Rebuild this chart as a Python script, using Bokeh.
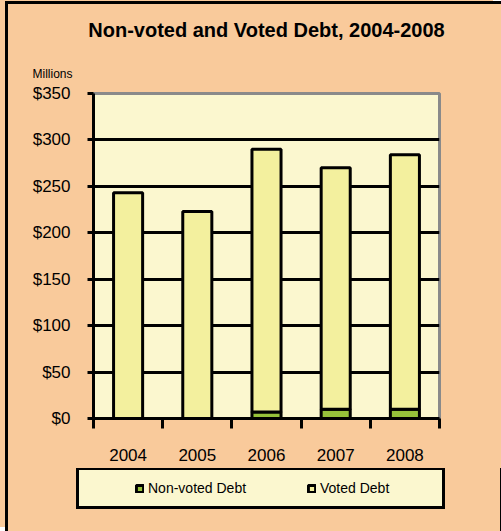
from bokeh.plotting import figure
from bokeh.layouts import column
from bokeh.models import (ColumnDataSource, Title, Legend, LegendItem,
                          FixedTicker, NumeralTickFormatter, BasicTickFormatter)
from bokeh.embed import file_html
from bokeh.resources import INLINE

# ---- data ----
years = [2004, 2005, 2006, 2007, 2008]
nonvoted = [0, 0, 7, 10, 10]
total = [243, 223, 290, 270, 284]
voted = [t - n for t, n in zip(total, nonvoted)]
y_ticks = [0, 50, 100, 150, 200, 250, 300, 350]
series_labels = ["Non-voted Debt", "Voted Debt"]

PEACH = "#F9CA9B"
CREAM = "#FBF7CF"
YELLOW = "#F3F09E"
GREEN = "#97C23A"
FONT = "Liberation Sans"

src = ColumnDataSource(dict(year=years, nonvoted=nonvoted, voted=voted))

# ---------------- main chart ----------------
p = figure(width=493, height=464,
           x_range=(years[0] - 0.5, years[-1] + 0.5), y_range=(0, 350),
           output_backend="svg", toolbar_location=None,
           min_border_left=85, min_border_top=89,
           min_border_right=62, min_border_bottom=50)
p.frame_align = False

p.title = Title(text="Non-voted and Voted Debt, 2004-2008", align="center",
                text_font=FONT, text_font_size="20px", text_font_style="bold",
                text_color="black", standoff=23)
p.add_layout(Title(text="Millions", align="left", offset=-61, standoff=25,
                   text_font=FONT, text_font_size="12px",
                   text_font_style="normal", text_color="black"), "above")

p.background_fill_color = CREAM
p.border_fill_color = PEACH
p.outline_line_color = "#8A8A8A"
p.outline_line_width = 3

rs = p.vbar_stack(["nonvoted", "voted"], x="year", width=0.42, source=src,
                  fill_color=[GREEN, YELLOW], line_color="black", line_width=3)

# y axis
p.yaxis.ticker = FixedTicker(ticks=y_ticks)
p.yaxis.formatter = NumeralTickFormatter(format="$0")
p.yaxis.axis_line_width = 3
p.yaxis.axis_line_color = "black"
p.yaxis.major_tick_line_width = 3
p.yaxis.major_tick_out = 6
p.yaxis.major_tick_in = 0
p.yaxis.minor_tick_line_color = None
p.yaxis.major_label_text_font = FONT
p.yaxis.major_label_text_font_size = "17px"
p.yaxis.major_label_text_color = "black"
p.yaxis.major_label_standoff = 17

# x axis: labels at centres, ticks at category boundaries
bounds = [y - 0.5 for y in years] + [years[-1] + 0.5]
p.xaxis.ticker = FixedTicker(ticks=years, minor_ticks=bounds)
p.xaxis.formatter = BasicTickFormatter(use_scientific=False)
p.xaxis.axis_line_width = 3
p.xaxis.axis_line_color = "black"
p.xaxis.major_tick_line_color = None
p.xaxis.major_tick_out = 10
p.xaxis.major_tick_in = 0
p.xaxis.minor_tick_line_color = "black"
p.xaxis.minor_tick_line_width = 3
p.xaxis.minor_tick_out = 10
p.xaxis.minor_tick_in = 0
p.xaxis.major_label_text_font = FONT
p.xaxis.major_label_text_font_size = "17px"
p.xaxis.major_label_text_color = "black"
p.xaxis.major_label_standoff = 20

# grid
p.xgrid.grid_line_color = None
p.ygrid.ticker = FixedTicker(ticks=y_ticks[1:-1])
p.ygrid.grid_line_color = "black"
p.ygrid.grid_line_width = 3

# ---------------- legend strip ----------------
# same series drawn with the same data; the view range keeps them off-screen,
# they only provide the legend swatches
q = figure(width=493, height=63, x_range=(0, 1), y_range=(0, 1),
           output_backend="svg", toolbar_location=None, min_border=0,
           x_axis_location=None, y_axis_location=None)
q.frame_align = False
q.outline_line_color = None
q.background_fill_color = PEACH
q.border_fill_color = PEACH
q.grid.visible = False
qs = q.vbar_stack(["nonvoted", "voted"], x="year", width=0.42, source=src,
                  fill_color=[GREEN, YELLOW], line_color="black", line_width=3)

legend = Legend(items=[LegendItem(label=series_labels[0], renderers=[qs[0]]),
                       LegendItem(label=series_labels[1], renderers=[qs[1]])],
                orientation="horizontal", location=(68, 22),
                glyph_width=9, glyph_height=9, label_standoff=4,
                label_width=112, spacing=47, padding=10, margin=0,
                title="\u00a0", title_location="left", title_standoff=45,
                title_text_font_size="1px",
                label_text_font=FONT, label_text_font_size="14px",
                label_text_color="black",
                border_line_color="black", border_line_width=3,
                border_line_alpha=1.0,
                background_fill_color=CREAM, background_fill_alpha=1)
q.add_layout(legend)

page = column(p, q, spacing=0)
page.styles = {"margin-left": "5px", "margin-top": "1px",
               "border-left": "3px solid black", "border-top": "3px solid black",
               "background-color": PEACH,
               "box-shadow": "-8px -4px 0 0 " + PEACH}

open("out.html", "w").write(file_html(page, INLINE))
